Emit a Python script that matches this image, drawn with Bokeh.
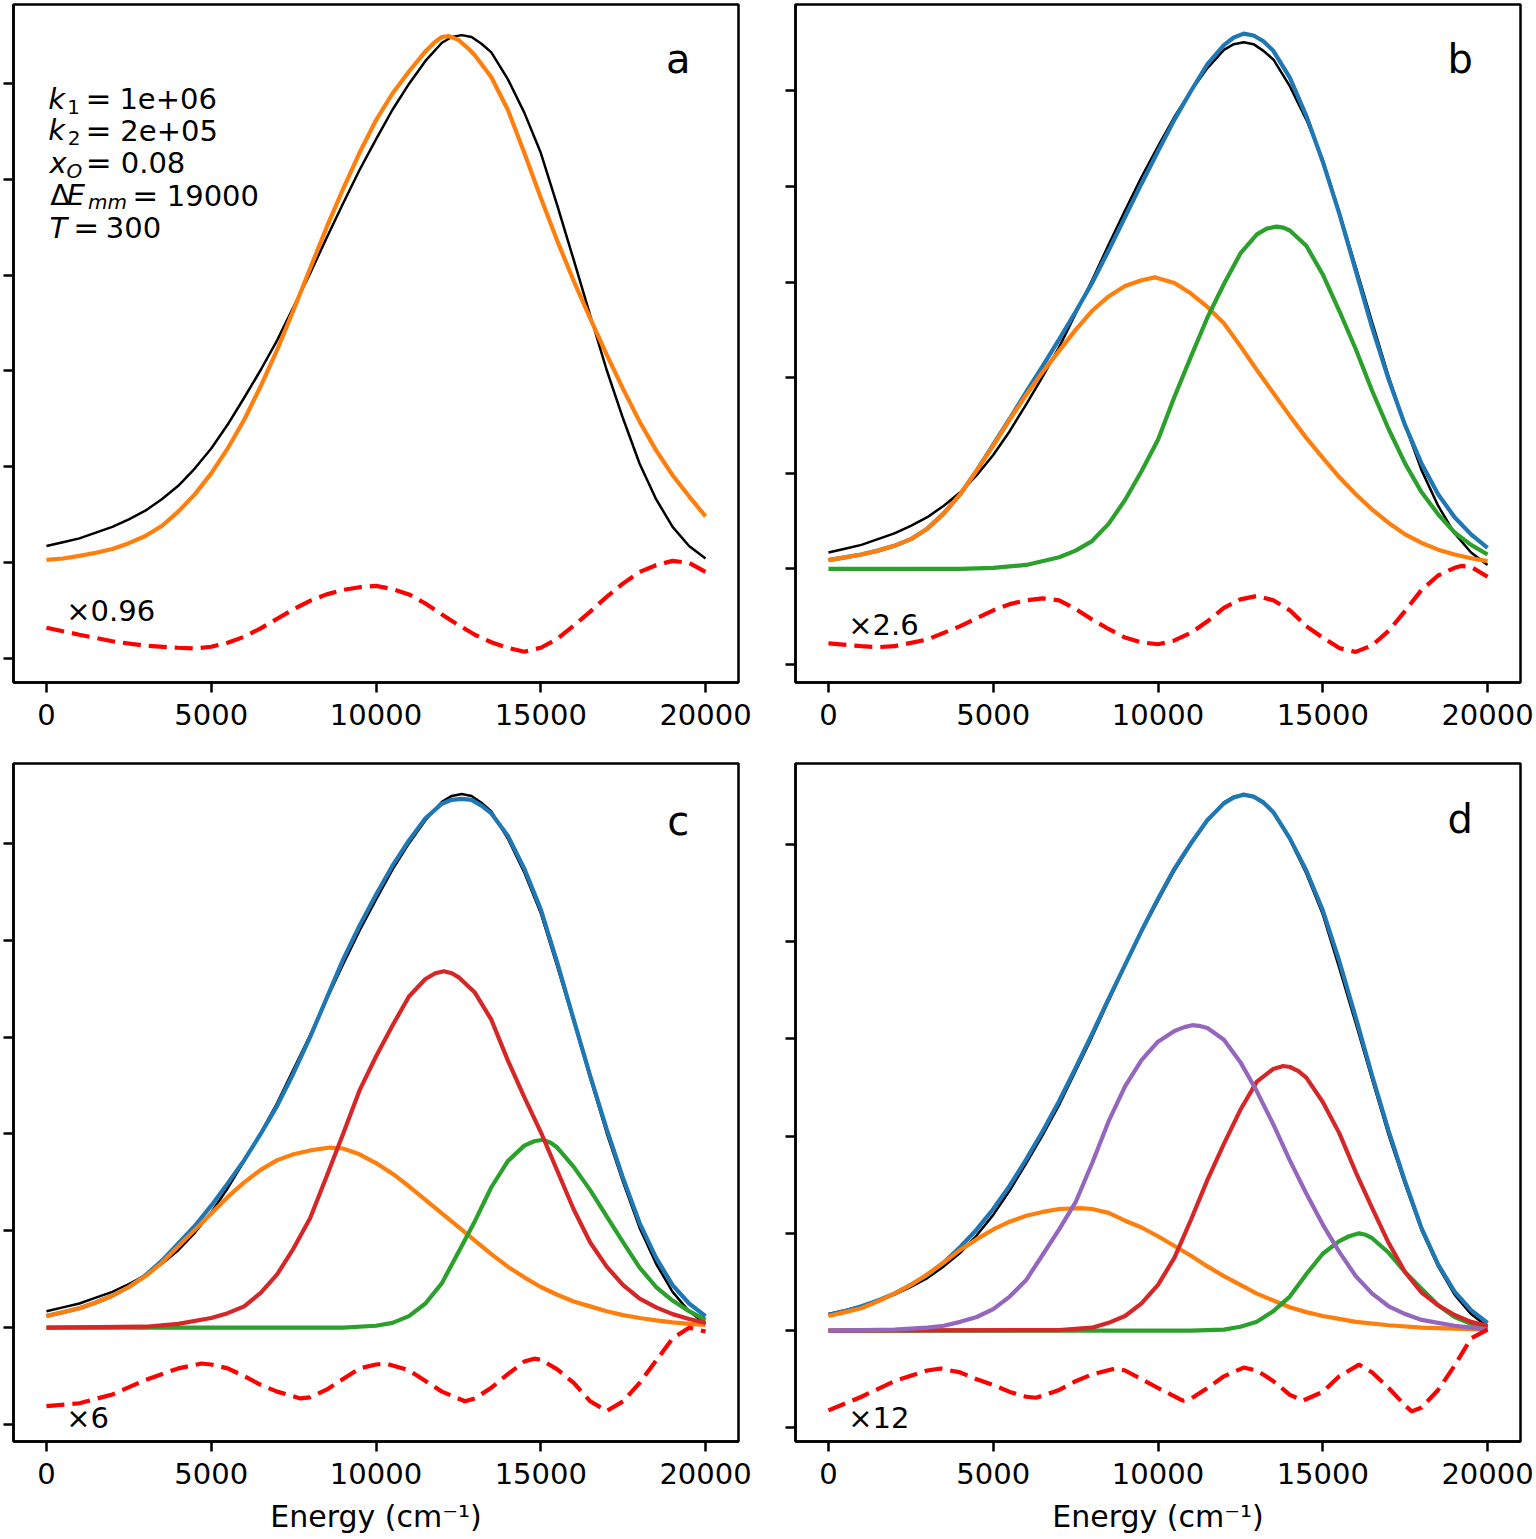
from bokeh.plotting import figure
from bokeh.models import Range1d, FixedTicker, BasicTickFormatter
from bokeh.layouts import column, row
from bokeh.embed import file_html
from bokeh.resources import INLINE
from bokeh.core.properties import value

# ---------------- data ----------------
X_TICKS = [0, 5000, 10000, 15000, 20000]
Y_TICKS = [-1, 0, 1, 2, 3, 4, 5]

# measured spectrum (black), same in every panel
E_BLACK = [0, 500, 1000, 1500, 2000, 2500, 3000, 3500, 4000, 4500, 5000, 5500, 6000, 6500, 7000, 7500, 8000,
           8500, 9000, 9500, 10000, 10500, 11000, 11500, 12000, 12300, 12600, 12900, 13200, 13500, 14000, 14500,
           15000, 15500, 16000, 16500, 17000, 17500, 18000, 18500, 19000, 19500, 20000]
Y_BLACK = [0.17, 0.21, 0.25, 0.31, 0.37, 0.45, 0.54, 0.66, 0.80, 0.98, 1.19, 1.44, 1.72, 2.01, 2.32, 2.67, 3.02,
           3.39, 3.75, 4.10, 4.42, 4.73, 5.00, 5.24, 5.43, 5.49, 5.51, 5.49, 5.42, 5.33, 5.05, 4.70,
           4.28, 3.73, 3.16, 2.58, 2.01, 1.50, 1.03, 0.66, 0.37, 0.17, 0.04]

# panel a
E_ORANGE_A = [0, 500, 1000, 1500, 2000, 2500, 3000, 3500, 4000, 4500, 5000, 5500, 6000, 6500, 7000, 7500, 8000,
              8500, 9000, 9500, 10000, 10500, 11000, 11500, 11800, 12000, 12200, 12500, 12800, 13000, 13500, 14000,
              14500, 15000, 15500, 16000, 16500, 17000, 17500, 18000, 18500, 19000, 19500, 20000]
Y_ORANGE_A = [0.025, 0.04, 0.067, 0.10, 0.14, 0.20, 0.275, 0.38, 0.53, 0.71, 0.93, 1.19, 1.49, 1.84, 2.22, 2.64,
              3.07, 3.50, 3.90, 4.28, 4.62, 4.90, 5.13, 5.34, 5.44, 5.49, 5.50, 5.46, 5.37, 5.30, 5.07, 4.73,
              4.28, 3.81, 3.36, 2.94, 2.55, 2.17, 1.81, 1.47, 1.17, 0.91, 0.69, 0.48]
E_RES_A = [0, 1000, 2000, 3000, 4000, 4500, 5000, 5500, 6000, 6500, 7000, 7500, 8000, 8500, 9000, 9500, 10000,
           10500, 11000, 11500, 12000, 12500, 13000, 13500, 14000, 14500, 15000, 15500, 16000, 16500, 17000,
           17500, 18000, 18500, 19000, 19500, 20000]
Y_RES_A = [-0.684, -0.757, -0.825, -0.872, -0.893, -0.90, -0.882, -0.84, -0.778, -0.69, -0.59, -0.49, -0.402,
           -0.335, -0.288, -0.26, -0.246, -0.28, -0.335, -0.43, -0.545, -0.655, -0.757, -0.835, -0.893, -0.934,
           -0.893, -0.80, -0.663, -0.515, -0.361, -0.22, -0.100, -0.03, 0.015, -0.006, -0.100]

# panel b
E_BLUE_B = [0, 500, 1000, 1500, 2000, 2500, 3000, 3500, 4000, 4500, 5000, 5500, 6000, 6500, 7000, 7500, 8000,
            8500, 9000, 9500, 10000, 10500, 11000, 11500, 12000, 12300, 12600, 12900, 13200, 13500, 14000, 14500,
            15000, 15500, 16000, 16500, 17000, 17500, 18000, 18500, 19000, 19500, 20000]
Y_BLUE_B = [0.09, 0.12, 0.15, 0.19, 0.24, 0.31, 0.42, 0.58, 0.78, 1.03, 1.30, 1.57, 1.85, 2.12, 2.40, 2.69, 2.99,
            3.33, 3.68, 4.03, 4.37, 4.70, 5.00, 5.28, 5.48, 5.56, 5.60, 5.58, 5.52, 5.42, 5.14, 4.74,
            4.26, 3.72, 3.12, 2.52, 1.98, 1.50, 1.10, 0.78, 0.54, 0.36, 0.22]
E_ORANGE_B = [0, 500, 1000, 1500, 2000, 2500, 3000, 3500, 4000, 4500, 5000, 5500, 6000, 6500, 7000, 7500, 8000,
              8500, 9000, 9500, 9900, 10500, 11000, 11500, 12000, 12500, 13000, 13500, 14000, 14500, 15000,
              15500, 16000, 16500, 17000, 17500, 18000, 18500, 19000, 19500, 20000]
Y_ORANGE_B = [0.09, 0.12, 0.15, 0.19, 0.24, 0.31, 0.42, 0.58, 0.78, 1.03, 1.29, 1.56, 1.82, 2.06, 2.28, 2.50, 2.70,
              2.85, 2.96, 3.02, 3.05, 2.99, 2.88, 2.74, 2.57, 2.33, 2.08, 1.84, 1.60, 1.37, 1.16,
              0.96, 0.78, 0.62, 0.48, 0.36, 0.27, 0.20, 0.15, 0.11, 0.08]
E_GREEN_B = [0, 4000, 5000, 6000, 7000, 7500, 8000, 8500, 9000, 9500, 10000, 10500, 11000, 11500, 12000, 12500,
             13000, 13300, 13600, 13800, 14000, 14500, 15000, 15500, 16000, 16500, 17000, 17500, 18000, 18500,
             19000, 19500, 20000]
Y_GREEN_B = [0.0, 0.0, 0.01, 0.04, 0.12, 0.19, 0.29, 0.47, 0.72, 1.02, 1.35, 1.80, 2.22, 2.63, 2.98, 3.30,
             3.50, 3.56, 3.58, 3.57, 3.54, 3.38, 3.08, 2.70, 2.30, 1.86, 1.46, 1.10, 0.80, 0.57,
             0.38, 0.25, 0.15]
E_RES_B = [0, 1000, 1500, 2000, 3000, 4000, 5000, 5500, 6000, 6500, 7000, 7500, 8000, 8500, 9000, 9500, 10000,
           10500, 11000, 11500, 12000, 12500, 13000, 13500, 14000, 14500, 15000, 15500, 16000, 16500, 17000,
           17500, 18000, 18500, 19000, 19200, 19500, 20000]
Y_RES_B = [-0.78, -0.81, -0.82, -0.81, -0.74, -0.60, -0.435, -0.37, -0.33, -0.31, -0.33, -0.42, -0.53, -0.63,
           -0.72, -0.77, -0.79, -0.75, -0.67, -0.55, -0.41, -0.32, -0.285, -0.33, -0.435, -0.60, -0.72, -0.83,
           -0.87, -0.80, -0.65, -0.44, -0.22, -0.07, 0.01, 0.03, 0.02, -0.084]

# panel c
E_BLUE_C = [0, 500, 1000, 1500, 2000, 2500, 3000, 3500, 4000, 4500, 5000, 5500, 6000, 6500, 7000, 7500, 8000,
            8500, 9000, 9500, 10000, 10500, 11000, 11500, 12000, 12300, 12600, 12900, 13200, 13500, 14000, 14500,
            15000, 15500, 16000, 16500, 17000, 17500, 18000, 18500, 19000, 19500, 20000]
Y_BLUE_C = [0.12, 0.16, 0.20, 0.26, 0.33, 0.42, 0.54, 0.69, 0.87, 1.05, 1.26, 1.49, 1.73, 2.00, 2.29, 2.63, 3.00,
            3.40, 3.80, 4.15, 4.47, 4.77, 5.03, 5.26, 5.41, 5.45, 5.46, 5.45, 5.39, 5.31, 5.08, 4.74,
            4.32, 3.77, 3.18, 2.60, 2.05, 1.54, 1.08, 0.72, 0.44, 0.25, 0.12]
E_ORANGE_C = [0, 500, 1000, 1500, 2000, 2500, 3000, 3500, 4000, 4500, 5000, 5500, 6000, 6500, 7000, 7500, 8000,
              8600, 9000, 9500, 10000, 10500, 11000, 11500, 12000, 12500, 13000, 13500, 14000, 14500, 15000,
              15500, 16000, 16500, 17000, 17500, 18000, 18500, 19000, 19500, 20000]
Y_ORANGE_C = [0.12, 0.16, 0.20, 0.26, 0.33, 0.42, 0.53, 0.67, 0.84, 1.01, 1.18, 1.35, 1.50, 1.63, 1.73, 1.79, 1.83,
              1.86, 1.85, 1.79, 1.70, 1.59, 1.46, 1.32, 1.18, 1.04, 0.90, 0.76, 0.63, 0.52, 0.42,
              0.34, 0.27, 0.22, 0.17, 0.13, 0.10, 0.075, 0.055, 0.04, 0.03]
E_GREEN_C = [0, 9000, 10000, 10500, 11000, 11500, 12000, 12500, 13000, 13500, 14000, 14500, 14800, 15060, 15300,
             15500, 16000, 16500, 17000, 17500, 18000, 18500, 19000, 19500, 20000]
Y_GREEN_C = [0.0, 0.0, 0.02, 0.05, 0.12, 0.25, 0.46, 0.78, 1.10, 1.45, 1.72, 1.88, 1.925, 1.94, 1.91,
             1.86, 1.66, 1.42, 1.15, 0.88, 0.62, 0.42, 0.28, 0.17, 0.08]
E_RED_C = [0, 3000, 4000, 5000, 5500, 6000, 6500, 7000, 7500, 8000, 8500, 9000, 9500, 10000, 10500, 11000, 11500,
           11800, 12060, 12300, 12500, 13000, 13500, 14000, 14500, 15000, 15500, 16000, 16500, 17000, 17500, 18000,
           18500, 19000, 19500, 20000]
Y_RED_C = [0.0, 0.01, 0.04, 0.10, 0.15, 0.22, 0.36, 0.55, 0.82, 1.13, 1.56, 2.00, 2.45, 2.80, 3.12, 3.42, 3.60,
           3.66, 3.68, 3.66, 3.62, 3.46, 3.18, 2.76, 2.38, 2.02, 1.62, 1.22, 0.88, 0.63, 0.44, 0.30,
           0.21, 0.14, 0.09, 0.05]
E_RES_C = [0, 1000, 2000, 3000, 4000, 4700, 5000, 5500, 6000, 6500, 7000, 7700, 8000, 8500, 9000, 9500, 10000,
           10300, 11000, 11500, 12000, 12700, 13000, 13500, 14000, 14500, 14800, 15000, 15500, 16000, 16500,
           17000, 17500, 18000, 18500, 19000, 19500, 20000]
Y_RES_C = [-0.81, -0.78, -0.69, -0.54, -0.42, -0.37, -0.38, -0.42, -0.50, -0.59, -0.66, -0.73, -0.72, -0.64,
           -0.53, -0.42, -0.38, -0.37, -0.44, -0.55, -0.66, -0.76, -0.73, -0.62, -0.48, -0.35, -0.32, -0.33,
           -0.43, -0.57, -0.76, -0.86, -0.76, -0.57, -0.34, -0.11, 0.0, -0.04]

# panel d
E_BLUE_D = [0, 500, 1000, 1500, 2000, 2500, 3000, 3500, 4000, 4500, 5000, 5500, 6000, 6500, 7000, 7500, 8000,
            8500, 9000, 9500, 10000, 10500, 11000, 11500, 12000, 12300, 12600, 12900, 13200, 13500, 14000, 14500,
            15000, 15500, 16000, 16500, 17000, 17500, 18000, 18500, 19000, 19500, 20000]
Y_BLUE_D = [0.16, 0.20, 0.25, 0.31, 0.38, 0.47, 0.57, 0.70, 0.86, 1.04, 1.25, 1.49, 1.76, 2.05, 2.36, 2.70, 3.05,
            3.41, 3.76, 4.11, 4.44, 4.75, 5.01, 5.25, 5.42, 5.48, 5.51, 5.49, 5.43, 5.33, 5.06, 4.73,
            4.32, 3.80, 3.22, 2.62, 2.05, 1.53, 1.05, 0.68, 0.40, 0.21, 0.08]
E_ORANGE_D = [0, 500, 1000, 1500, 2000, 2500, 3000, 3500, 4000, 4500, 5000, 5500, 6000, 6500, 7000, 7650, 8000,
              8500, 9000, 9500, 10000, 10500, 11000, 11500, 12000, 12500, 13000, 13500, 14000, 14500, 15000,
              15500, 16000, 17000, 18000, 19000, 20000]
Y_ORANGE_D = [0.15, 0.19, 0.23, 0.30, 0.38, 0.47, 0.58, 0.70, 0.83, 0.94, 1.04, 1.12, 1.18, 1.22, 1.25, 1.26, 1.25,
              1.21, 1.13, 1.06, 0.97, 0.87, 0.77, 0.66, 0.56, 0.47, 0.38, 0.31, 0.24, 0.19, 0.15,
              0.12, 0.09, 0.055, 0.03, 0.02, 0.01]
E_GREEN_D = [0, 11000, 12000, 12500, 13000, 13500, 14000, 14500, 15000, 15500, 15800, 16100, 16300, 16500, 17000,
             17500, 18000, 18500, 19000, 19500, 20000]
Y_GREEN_D = [0.0, 0.0, 0.01, 0.04, 0.09, 0.20, 0.35, 0.58, 0.79, 0.92, 0.97, 1.00, 0.985, 0.95, 0.80,
             0.60, 0.43, 0.26, 0.14, 0.07, 0.03]
E_RED_D = [0, 7000, 8000, 8500, 9000, 9500, 10000, 10500, 11000, 11500, 12000, 12500, 13000, 13500, 13800, 14000,
           14250, 14500, 15000, 15500, 16000, 16500, 17000, 17500, 18000, 18500, 19000, 19500, 20000]
Y_RED_D = [0.0, 0.005, 0.03, 0.08, 0.15, 0.28, 0.47, 0.75, 1.14, 1.55, 1.92, 2.27, 2.56, 2.69, 2.72, 2.71,
           2.67, 2.60, 2.35, 2.03, 1.63, 1.26, 0.90, 0.60, 0.39, 0.26, 0.16, 0.09, 0.05]
E_PURPLE_D = [0, 2000, 3000, 3500, 4000, 4500, 5000, 5500, 6000, 6500, 7000, 7500, 8000, 8500, 9000, 9500, 10000,
              10500, 10800, 11040, 11300, 11500, 12000, 12500, 13000, 13500, 14000, 14500, 15000, 15500, 16000,
              16500, 17000, 17500, 18000, 18500, 19000, 19500, 20000]
Y_PURPLE_D = [0.0, 0.01, 0.03, 0.05, 0.09, 0.14, 0.22, 0.35, 0.52, 0.78, 1.04, 1.32, 1.72, 2.15, 2.51, 2.78, 2.97,
              3.08, 3.12, 3.14, 3.13, 3.11, 2.99, 2.76, 2.46, 2.12, 1.75, 1.41, 1.09, 0.81, 0.56,
              0.38, 0.25, 0.17, 0.11, 0.08, 0.05, 0.03, 0.01]
E_RES_D = [0, 1000, 2000, 3000, 3400, 4000, 4500, 5000, 5500, 6000, 6300, 7000, 7500, 8000, 8700, 9000, 9500,
           10000, 10750, 11000, 11500, 12000, 12600, 13000, 13500, 14000, 14400, 15000, 15500, 16100, 16500,
           17000, 17500, 17700, 18000, 18500, 19000, 19500, 20000]
Y_RES_D = [-0.82, -0.68, -0.52, -0.41, -0.39, -0.43, -0.50, -0.56, -0.63, -0.68, -0.69, -0.61, -0.52, -0.45,
           -0.39, -0.41, -0.50, -0.59, -0.72, -0.70, -0.59, -0.47, -0.38, -0.41, -0.52, -0.66, -0.72, -0.63,
           -0.47, -0.35, -0.43, -0.59, -0.77, -0.83, -0.79, -0.61, -0.36, -0.08, 0.01]

PANEL_LETTERS = ["a", "b", "c", "d"]
SCALE_TEXTS = ["\u00d70.96", "\u00d72.6", "\u00d76", "\u00d712"]
Y_LIMITS = [(-1.256, 5.83), (-1.19, 5.905), (-1.175, 5.825), (-1.14, 5.83)]

# parameter annotation of panel a (mathtext-like, built from pieces)
PARAM_VARS = ["k", "k", "x", "E", "T"]
PARAM_SUBS = ["1", "2", "O", "mm"]
PARAM_VALUES = ["1e+06", "2e+05", "0.08", "19000", "300"]

# ---------------- styling / layout ----------------
FONT = "DejaVu Sans"
C_BLACK = "#000000"
C_BLUE = "#1f77b4"
C_ORANGE = "#ff7f0e"
C_GREEN = "#2ca02c"
C_RED = "#d62728"
C_PURPLE = "#9467bd"
C_RES = "#ff0000"
LW = 4.2
DASH = "18 8"
FW, FH = 725, 678
TEXT_SHIFT = 0.33  # em, compensates the renderer's baseline placement


def make_panel(ylim, bottom_row, right_col):
    p = figure(frame_width=FW, frame_height=FH,
               x_range=Range1d(-1000, 21000), y_range=Range1d(*ylim),
               output_backend="svg", toolbar_location=None,
               min_border_left=13, min_border_right=14 if right_col else 44,
               min_border_top=4, min_border_bottom=95 if bottom_row else 77)
    p.xgrid.visible = False
    p.ygrid.visible = False
    p.outline_line_color = "black"
    p.outline_line_width = 2.5
    p.outline_line_alpha = 1.0
    p.background_fill_color = "white"
    p.border_fill_color = "white"

    xa = p.xaxis[0]
    xa.ticker = FixedTicker(ticks=X_TICKS)
    xa.formatter = BasicTickFormatter(use_scientific=False)
    xa.minor_tick_line_color = None
    xa.major_tick_in = 0
    xa.major_tick_out = 10
    xa.major_tick_line_width = 2.5
    xa.axis_line_width = 2.5
    xa.major_label_standoff = 11
    xa.major_label_text_font = FONT
    xa.major_label_text_font_size = "29px"
    xa.major_label_text_color = "black"
    if bottom_row:
        xa.axis_label = "Energy (cm\u207b\u00b9)"
        xa.axis_label_text_font = FONT
        xa.axis_label_text_font_size = "30px"
        xa.axis_label_text_font_style = "normal"
        xa.axis_label_text_color = "black"
        xa.axis_label_standoff = 12

    ya = p.yaxis[0]
    ya.ticker = FixedTicker(ticks=Y_TICKS)
    ya.minor_tick_line_color = None
    ya.major_tick_in = 0
    ya.major_tick_out = 10
    ya.major_tick_line_width = 2.5
    ya.axis_line_width = 2.5
    ya.major_label_overrides = {t: "" for t in Y_TICKS}
    ya.major_label_standoff = 0
    return p


def add_text(p, ylim, xs, ys, texts, size_px, style="normal", align="left"):
    ppu = FH / (ylim[1] - ylim[0])
    dy = TEXT_SHIFT * size_px / ppu
    p.text(x=xs, y=[y + dy for y in ys], text=texts, text_font=value(FONT),
           text_font_size=value(f"{size_px}px"), text_font_style=style,
           text_baseline="alphabetic", text_align=align, text_color="black")


def decorate(p, i, ylim):
    letter_y = [5.12, 5.20, 5.10, 5.12][i]
    add_text(p, ylim, [19170], [letter_y], [PANEL_LETTERS[i]], 40, align="center")
    scale_y = [-0.61, -0.69, -1.03, -0.995][i]
    add_text(p, ylim, [600], [scale_y], [SCALE_TEXTS[i]], 29)


# ---- a ----
ya_lim = Y_LIMITS[0]
pa = make_panel(ya_lim, False, False)
pa.line(E_BLACK, Y_BLACK, line_color=C_BLACK, line_width=2.5)
pa.line(E_ORANGE_A, Y_ORANGE_A, line_color=C_ORANGE, line_width=LW)
pa.line(E_RES_A, Y_RES_A, line_color=C_RES, line_width=LW, line_dash=DASH)
decorate(pa, 0, ya_lim)

base = [4.743, 4.415, 4.076, 3.737, 3.398]
add_text(pa, ya_lim, [52, 52, 91, 615, 91], base, PARAM_VARS, 29, style="italic")
add_text(pa, ya_lim, [630, 645], [base[0] - 0.055, base[1] - 0.052], PARAM_SUBS[:2], 20)
add_text(pa, ya_lim, [606, 1260], [base[2] - 0.052, base[3] - 0.035], PARAM_SUBS[2:], 20, style="italic")
add_text(pa, ya_lim, [112], [base[3]], ["\u0394"], 29)
add_text(pa, ya_lim, [1580, 1580, 1590, 3000, 1210], base, ["="] * 5, 31, align="center")
add_text(pa, ya_lim, [2214, 2242, 2254, 3651, 1799], base, PARAM_VALUES, 29)

# ---- b ----
pb = make_panel(Y_LIMITS[1], False, True)
pb.line(E_BLACK, Y_BLACK, line_color=C_BLACK, line_width=2.5)
pb.line(E_BLUE_B, Y_BLUE_B, line_color=C_BLUE, line_width=LW)
pb.line(E_ORANGE_B, Y_ORANGE_B, line_color=C_ORANGE, line_width=LW)
pb.line(E_GREEN_B, Y_GREEN_B, line_color=C_GREEN, line_width=LW)
pb.line(E_RES_B, Y_RES_B, line_color=C_RES, line_width=LW, line_dash=DASH)
decorate(pb, 1, Y_LIMITS[1])

# ---- c ----
pc = make_panel(Y_LIMITS[2], True, False)
pc.line(E_BLACK, Y_BLACK, line_color=C_BLACK, line_width=2.5)
pc.line(E_BLUE_C, Y_BLUE_C, line_color=C_BLUE, line_width=LW)
pc.line(E_ORANGE_C, Y_ORANGE_C, line_color=C_ORANGE, line_width=LW)
pc.line(E_GREEN_C, Y_GREEN_C, line_color=C_GREEN, line_width=LW)
pc.line(E_RED_C, Y_RED_C, line_color=C_RED, line_width=LW)
pc.line(E_RES_C, Y_RES_C, line_color=C_RES, line_width=LW, line_dash=DASH)
decorate(pc, 2, Y_LIMITS[2])

# ---- d ----
pd = make_panel(Y_LIMITS[3], True, True)
pd.line(E_BLACK, Y_BLACK, line_color=C_BLACK, line_width=2.5)
pd.line(E_BLUE_D, Y_BLUE_D, line_color=C_BLUE, line_width=LW)
pd.line(E_ORANGE_D, Y_ORANGE_D, line_color=C_ORANGE, line_width=LW)
pd.line(E_GREEN_D, Y_GREEN_D, line_color=C_GREEN, line_width=LW)
pd.line(E_RED_D, Y_RED_D, line_color=C_RED, line_width=LW)
pd.line(E_PURPLE_D, Y_PURPLE_D, line_color=C_PURPLE, line_width=LW)
pd.line(E_RES_D, Y_RES_D, line_color=C_RES, line_width=LW, line_dash=DASH)
decorate(pd, 3, Y_LIMITS[3])

layout = column(row(pa, pb), row(pc, pd))
open("out.html", "w").write(file_html(layout, INLINE))
